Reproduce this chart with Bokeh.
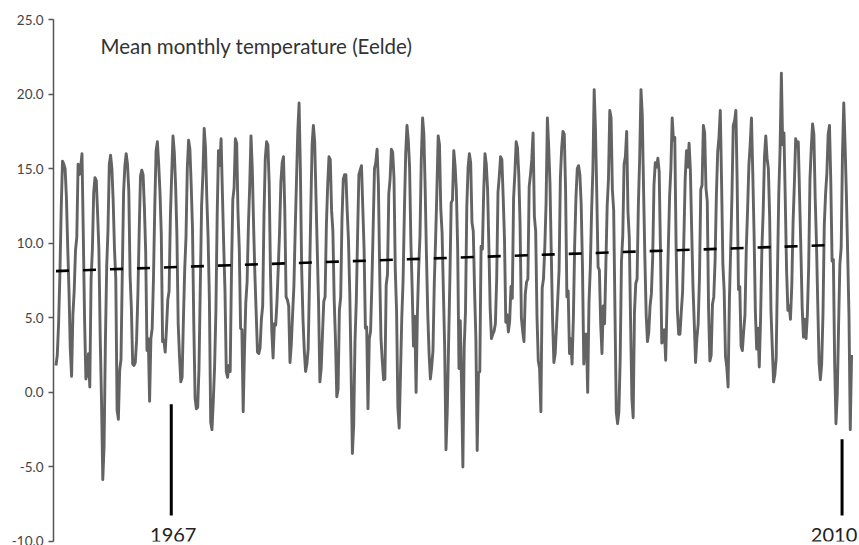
from bokeh.plotting import figure
from bokeh.models import ColumnDataSource, Range1d, FixedTicker, NumeralTickFormatter, Label, LabelSet
from bokeh.core.properties import value
from bokeh.embed import file_html
from bokeh.resources import INLINE

# ---------------- data ----------------
start_year = 1960
monthly = {
    1960: [1.8, 2.5, 4.6, 7.9, 12.3, 15.5, 15.3, 15.0, 13.1, 9.8, 6.8, 2.9],
    1961: [1.07, 5.2, 6.8, 9.5, 10.4, 15.3, 14.6, 15.1, 16.0, 10.6, 4.8, 0.9],
    1962: [1.2, 2.6, 0.36, 7.6, 9.6, 13.4, 14.4, 14.2, 12.0, 9.6, 3.8, -0.5],
    1963: [-5.85, -3.6, 3.4, 8.4, 10.9, 15.3, 15.9, 15.0, 12.8, 9.6, 7.6, -1.2],
    1964: [-1.8, 1.5, 2.2, 8.0, 13.4, 15.2, 16.0, 15.3, 13.5, 7.8, 5.6, 1.9],
    1965: [1.8, 2.0, 3.5, 6.6, 10.8, 14.5, 14.9, 14.6, 12.4, 9.4, 2.8, 3.6],
    1966: [-0.6, 3.6, 4.3, 7.7, 12.5, 16.2, 16.8, 15.3, 13.4, 10.6, 3.4, 3.5],
    1967: [2.7, 4.3, 6.2, 6.8, 11.8, 14.6, 17.2, 16.1, 13.9, 10.6, 4.6, 2.4],
    1968: [0.7, 1.0, 4.8, 8.2, 10.4, 15.0, 16.9, 16.3, 13.9, 11.0, 4.6, -0.4],
    1969: [-1.1, -1.0, 1.6, 7.1, 12.5, 14.6, 17.7, 16.4, 13.1, 10.4, 6.2, -2.0],
    1970: [-2.5, -0.6, 1.7, 5.4, 11.9, 16.2, 15.2, 17.0, 13.4, 9.9, 6.8, 1.4],
    1971: [1.0, 1.8, 1.4, 8.1, 12.9, 13.7, 17.0, 16.7, 12.1, 9.6, 4.3, 4.2],
    1972: [-1.3, 2.8, 6.0, 7.4, 11.1, 13.8, 17.2, 15.0, 11.2, 7.9, 5.3, 2.7],
    1973: [2.6, 3.0, 4.9, 5.8, 11.9, 15.7, 16.8, 16.6, 14.0, 8.0, 4.1, 2.3],
    1974: [4.6, 4.5, 6.1, 8.4, 10.8, 14.1, 15.4, 15.8, 12.2, 6.4, 6.2, 5.8],
    1975: [2.0, 3.2, 5.2, 7.1, 10.8, 14.2, 17.5, 19.4, 14.9, 8.2, 4.9, 2.8],
    1976: [1.4, 1.9, 2.9, 7.4, 12.2, 16.6, 17.9, 16.8, 13.1, 9.5, 5.9, 0.7],
    1977: [1.6, 3.9, 6.1, 6.4, 11.2, 13.9, 15.8, 15.6, 12.2, 10.8, 6.2, 3.5],
    1978: [-0.3, 0.2, 5.5, 6.4, 11.6, 14.3, 14.6, 14.6, 12.2, 10.2, 6.6, 1.6],
    1979: [-4.1, -2.2, 3.4, 6.1, 10.5, 14.6, 14.9, 15.2, 12.4, 9.6, 4.3, 4.4],
    1980: [-1.1, 3.6, 4.1, 7.3, 11.1, 15.0, 15.4, 16.3, 14.0, 8.1, 3.6, 2.1],
    1981: [0.85, 0.9, 7.2, 7.9, 13.3, 14.3, 16.3, 16.1, 14.4, 8.2, 5.4, -1.0],
    1982: [-2.4, 1.2, 5.0, 7.5, 12.1, 16.0, 17.9, 16.9, 15.1, 10.1, 6.9, 3.1],
    1983: [5.1, 0.0, 5.2, 8.3, 10.5, 15.6, 18.4, 17.3, 13.6, 9.1, 5.2, 2.6],
    1984: [0.9, 1.7, 2.8, 7.3, 10.2, 13.5, 17.2, 16.6, 12.3, 10.7, 6.8, 3.0],
    1985: [-3.85, -1.2, 3.2, 7.6, 12.7, 12.9, 16.2, 15.2, 13.5, 9.6, 1.6, 4.8],
    1986: [0.4, -5.0, 3.0, 5.4, 12.4, 15.1, 16.0, 15.4, 11.4, 10.8, 6.8, 3.6],
    1987: [-3.9, 1.3, 1.4, 9.8, 9.6, 13.4, 16.0, 15.3, 13.6, 9.8, 5.6, 3.6],
    1988: [3.9, 4.1, 4.6, 7.6, 13.4, 14.5, 15.8, 15.6, 13.1, 10.3, 4.7, 5.2],
    1989: [4.05, 4.8, 7.1, 6.3, 13.0, 14.7, 16.8, 16.4, 14.6, 11.2, 5.0, 4.1],
    1990: [3.4, 6.6, 7.4, 7.6, 13.8, 14.6, 15.6, 17.4, 11.8, 10.8, 5.1, 2.1],
    1991: [1.6, -1.3, 7.0, 7.6, 9.7, 12.7, 18.4, 16.5, 14.0, 9.3, 4.9, 2.0],
    1992: [2.6, 4.4, 6.3, 8.2, 14.4, 16.4, 17.5, 17.3, 13.6, 6.4, 6.8, 2.6],
    1993: [3.6, 1.9, 5.0, 9.9, 13.1, 15.0, 15.2, 14.6, 12.6, 8.4, 1.9, 3.9],
    1994: [3.9, 0.0, 6.0, 8.3, 12.1, 14.9, 20.3, 17.6, 13.3, 8.4, 8.2, 4.6],
    1995: [2.6, 5.8, 4.6, 8.6, 12.5, 14.3, 18.9, 18.4, 13.6, 12.2, 5.4, -1.3],
    1996: [-2.1, -1.3, 2.2, 8.8, 10.5, 15.3, 15.8, 17.5, 12.1, 10.4, 4.8, -0.4],
    1997: [-1.7, 5.4, 7.3, 7.6, 12.6, 15.7, 20.3, 18.6, 13.6, 9.0, 5.2, 3.4],
    1998: [4.05, 5.8, 6.6, 9.0, 13.9, 15.4, 15.1, 15.7, 14.8, 9.5, 3.3, 3.4],
    1999: [4.2, 2.15, 5.8, 9.6, 13.1, 15.0, 18.4, 16.9, 17.1, 9.9, 5.5, 3.9],
    2000: [3.9, 5.4, 6.7, 10.3, 14.3, 16.2, 15.1, 16.7, 14.9, 10.9, 7.1, 4.6],
    2001: [2.0, 3.6, 4.6, 7.7, 13.6, 13.9, 17.9, 17.4, 13.7, 12.8, 5.6, 2.1],
    2002: [2.5, 5.9, 6.4, 8.8, 13.2, 16.1, 17.1, 18.9, 14.1, 8.6, 6.8, 2.4],
    2003: [1.7, 0.36, 6.1, 9.6, 13.3, 17.9, 18.2, 18.9, 14.0, 6.9, 7.1, 3.1],
    2004: [2.8, 4.1, 5.2, 9.6, 12.2, 15.2, 16.6, 18.4, 14.7, 10.6, 5.4, 2.9],
    2005: [4.3, 1.7, 4.9, 9.6, 12.1, 15.8, 17.2, 15.7, 15.0, 11.7, 5.5, 3.0],
    2006: [0.7, 1.2, 2.3, 8.0, 13.3, 16.3, 21.4, 16.6, 17.4, 12.9, 8.2, 5.5],
    2007: [5.8, 4.9, 7.1, 11.4, 14.0, 17.0, 16.5, 16.8, 13.2, 9.6, 5.7, 3.7],
    2008: [4.9, 3.6, 5.2, 8.4, 14.3, 16.4, 18.0, 17.3, 13.1, 10.0, 5.9, 2.0],
    2009: [0.85, 1.9, 5.2, 11.2, 13.3, 14.7, 17.3, 17.9, 14.2, 8.8, 8.9, 1.9],
    2010: [-2.1, -0.1, 4.4, 8.6, 9.7, 15.9, 19.4, 16.6, 13.3, 9.3, 5.2, -2.5],
    2011: [2.5],
}
trend_years = [1960.0, 2010.1]
trend_values = [8.13, 9.89]
marker_years = [1967, 2010]
marker_labels = ["1967", "2010"]
marker_tops = [-0.8, -3.15]
marker_bottom = -8.26
y_ticks = [-10, -5, 0, 5, 10, 15, 20, 25]
title_text = "Mean monthly temperature (Eelde)"

# ------------- build series -------------
xs, ys = [], []
for yr in sorted(monthly):
    for m, v in enumerate(monthly[yr]):
        xs.append(yr + m / 12.0)
        ys.append(v)
src = ColumnDataSource(dict(x=xs, y=ys))

FONT = "Lato"
p = figure(width=859, height=545, output_backend="svg", toolbar_location=None,
           x_range=Range1d(1959.84, 2011.38), y_range=Range1d(-10, 25),
           x_axis_location=None, y_axis_location="left",
           min_border_left=53, min_border_right=2, min_border_top=19, min_border_bottom=4)
p.outline_line_color = None
p.grid.grid_line_color = None
p.background_fill_color = "white"
p.border_fill_color = "white"

ax = p.yaxis[0]
ax.ticker = FixedTicker(ticks=y_ticks)
ax.formatter = NumeralTickFormatter(format="0.0")
ax.axis_line_color = "#555555"
ax.axis_line_width = 1.5
ax.major_tick_line_color = "#555555"
ax.major_tick_line_width = 1.5
ax.major_tick_out = 5
ax.major_tick_in = 0
ax.minor_tick_line_color = None
ax.major_label_standoff = 5
ax.major_label_text_font = FONT
ax.major_label_text_font_size = "13.5px"
ax.major_label_text_color = "#444444"

p.line("x", "y", source=src, line_color="#636363", line_width=2.9, line_join="round")

p.line(trend_years, trend_values, line_color="black", line_width=2.6, line_dash="13 14")

mx = [yv + 0.39 for yv in marker_years]
msrc = ColumnDataSource(dict(x=mx, top=marker_tops, bottom=[marker_bottom] * len(mx),
                             label=marker_labels, ly=[-10.0] * len(mx),
                             dx=[2, -8]))
p.segment(x0="x", y0="top", x1="x", y1="bottom", source=msrc,
          line_color="black", line_width=3)
p.add_layout(LabelSet(x="x", y="ly", text="label", source=msrc, x_offset="dx",
                      text_align="center", text_baseline="alphabetic",
                      text_font=value(FONT), text_font_size=value("20px"),
                      text_color=value("#222222")))

p.add_layout(Label(x=1962.85, y=23.19, text=title_text, text_align="left",
                   text_baseline="alphabetic", text_font=FONT, text_font_size="20.5px",
                   text_color="#333333"))

open("out.html", "w").write(file_html(p, INLINE))
